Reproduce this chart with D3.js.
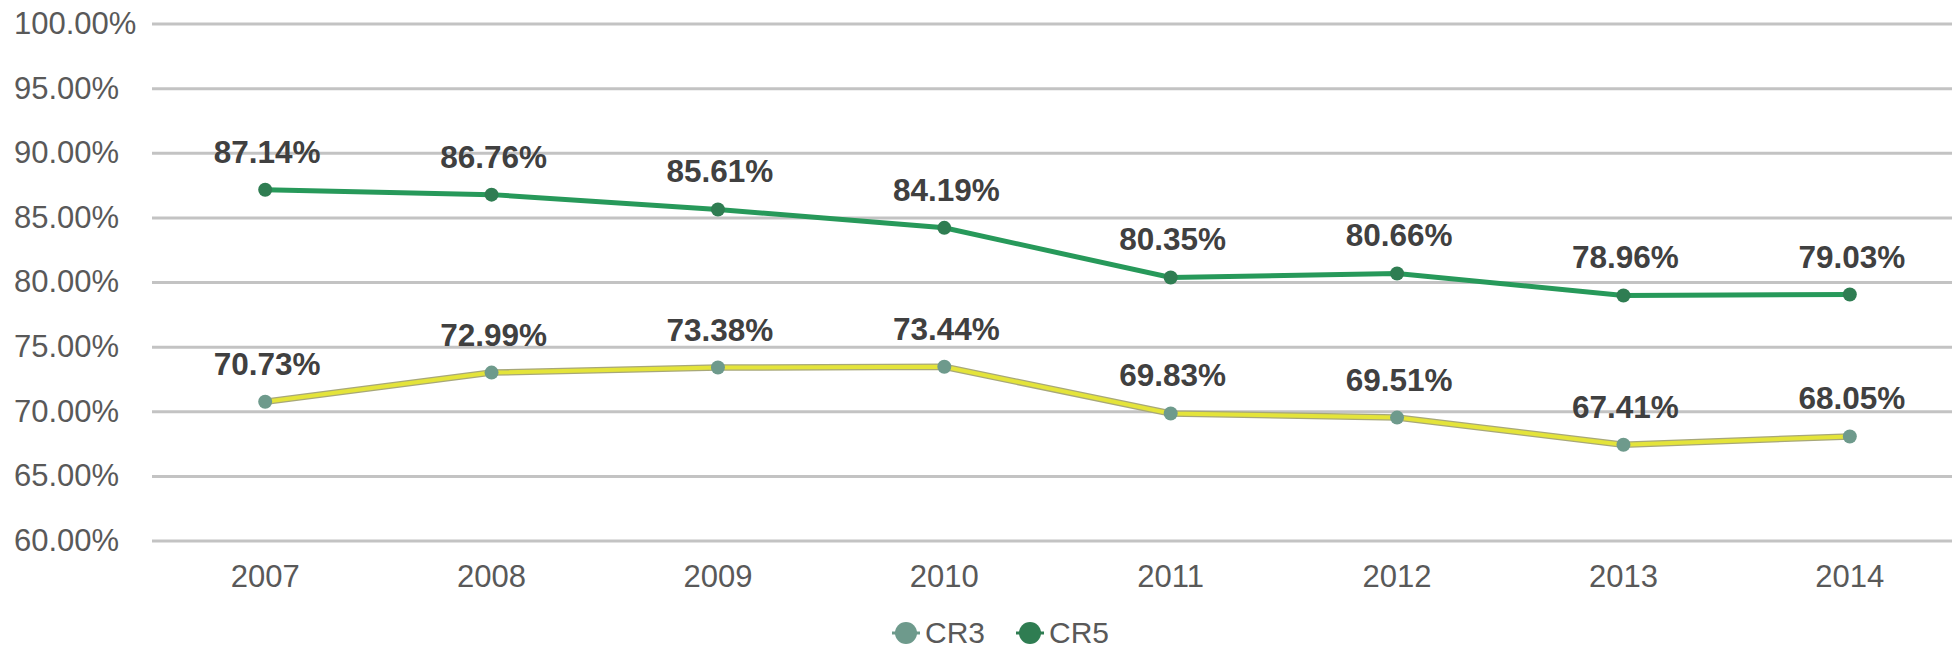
<!DOCTYPE html>
<html>
<head>
<meta charset="utf-8">
<script src="https://cdn.jsdelivr.net/npm/d3@7"></script>
<style>
  body { margin: 0; background: #fff; }
  svg { display: block; font-family: "Liberation Sans", Arial, sans-serif; }
</style>
</head>
<body>
<svg id="chart"></svg>
<script>
const years = ["2007", "2008", "2009", "2010", "2011", "2012", "2013", "2014"];
const cr3 = [70.73, 72.99, 73.38, 73.44, 69.83, 69.51, 67.41, 68.05];
const cr5 = [87.14, 86.76, 85.61, 84.19, 80.35, 80.66, 78.96, 79.03];
const yTicks = [60, 65, 70, 75, 80, 85, 90, 95, 100];

const width = 1952, height = 653;
const margin = { left: 152, right: -11, top: 23.5, bottom: 112.5 };

const svg = d3.select("svg#chart").attr("width", width).attr("height", height);

const x = d3.scaleBand()
  .domain(years)
  .range([margin.left, width - margin.right]);
const y = d3.scaleLinear()
  .domain([60, 100])
  .range([height - margin.bottom, margin.top]);
const cx = (d) => x(d) + x.bandwidth() / 2;

// gridlines + y labels
const yAxis = d3.axisLeft(y)
  .tickValues(yTicks)
  .tickSize(-(width - margin.right - margin.left))
  .tickFormat((d) => d.toFixed(2) + "%");
svg.append("g")
  .attr("transform", `translate(${margin.left},0)`)
  .call(yAxis)
  .call((g) => g.select(".domain").remove())
  .call((g) => g.selectAll(".tick line").attr("stroke", "#c3c3c3").attr("stroke-width", 3))
  .call((g) => g.selectAll(".tick text")
    .attr("x", 14 - margin.left)
    .attr("text-anchor", "start")
    .attr("fill", "#595959")
    .attr("font-size", 31));

// x labels
const xAxis = d3.axisBottom(x).tickSize(0).tickPadding(24);
svg.append("g")
  .attr("transform", `translate(0,${height - margin.bottom})`)
  .call(xAxis)
  .call((g) => g.select(".domain").remove())
  .call((g) => g.selectAll(".tick text").attr("fill", "#595959").attr("font-size", 31));

const series = [
  { name: "CR3", values: cr3, line: "#e4e43a", edge: "#a8a878", marker: "#6e9a8c", width: 4 },
  { name: "CR5", values: cr5, line: "#27995a", edge: null, marker: "#2f7d52", width: 5 },
];

const line = d3.line().x((d) => cx(d.year)).y((d) => y(d.v));

series.forEach((s) => {
  const pts = years.map((year, i) => ({ year, v: s.values[i] }));
  const g = svg.append("g");
  if (s.edge) {
    g.append("path").attr("d", line(pts)).attr("fill", "none")
      .attr("stroke", s.edge).attr("stroke-width", s.width + 2.5);
  }
  g.append("path").attr("d", line(pts)).attr("fill", "none")
    .attr("stroke", s.line).attr("stroke-width", s.width);
  g.selectAll("circle").data(pts).join("circle")
    .attr("cx", (d) => cx(d.year)).attr("cy", (d) => y(d.v))
    .attr("r", 7).attr("fill", s.marker);
  g.selectAll("text").data(pts).join("text")
    .attr("x", (d) => cx(d.year) + 2).attr("y", (d) => y(d.v) - 27)
    .attr("text-anchor", "middle")
    .attr("font-size", 31.5).attr("font-weight", "bold").attr("fill", "#404040")
    .text((d) => d.v.toFixed(2) + "%");
});

// legend
const legend = svg.append("g").attr("transform", "translate(906,633)");
const items = legend.selectAll("g").data(series).join("g")
  .attr("transform", (d, i) => `translate(${i * 124},0)`);
items.append("line").attr("x1", -14).attr("x2", 14)
  .attr("stroke", (d) => d.marker).attr("stroke-width", 3);
items.append("circle").attr("r", 11).attr("fill", (d) => d.marker);
items.append("text").attr("x", 19).attr("y", 10)
  .attr("font-size", 30).attr("fill", "#595959")
  .text((d) => d.name);
</script>
</body>
</html>
